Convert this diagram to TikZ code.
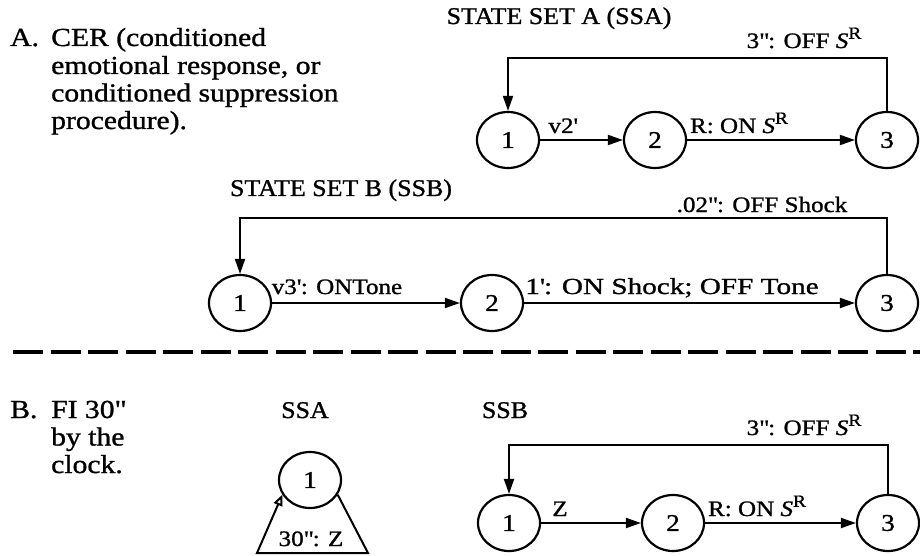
\documentclass[tikz,border=0pt]{standalone}
\usepackage{fontspec}
\setmainfont[FakeStretch=1.14,FakeBold=1.1]{Liberation Serif}
\newfontfamily\ttlfont[FakeStretch=1.08,FakeBold=1.1]{Liberation Serif}
\newfontfamily\widefont[FakeStretch=1.27,FakeBold=1.1]{Liberation Serif}
\usetikzlibrary{shapes.geometric,arrows.meta}
\newcommand{\SRsym}{\textit{S}\raisebox{0.42em}{\fontsize{17}{17}\selectfont R}}
\newcommand{\tq}{\textquotesingle}
\newcommand{\dq}{\textquotedbl}
\begin{document}
\begin{tikzpicture}[x=1pt,y=-1pt,
  state/.style={ellipse,draw,line width=2.2pt,minimum width=62pt,minimum height=56pt,inner sep=0pt,font=\fontsize{24}{24}\selectfont},
  conn/.style={line width=2pt,-{Triangle[length=15pt,width=10pt]}},
  plainline/.style={line width=2pt},
  lbl/.style={font=\fontsize{22}{22}\selectfont,inner sep=0pt,anchor=base},
  widelbl/.style={font=\widefont\fontsize{23}{23}\selectfont,inner sep=0pt,anchor=base},
  ttl/.style={font=\ttlfont\fontsize{24}{24}\selectfont,inner sep=0pt,anchor=base},
  body/.style={font=\fontsize{26}{28}\selectfont,inner sep=0pt,anchor=base west},
  sep/.style={line width=3.3pt,dash pattern=on 30pt off 7.5pt}
]
\useasboundingbox (0,0) rectangle (920,556);

% ---------- Part A text ----------
\node[body] (Alet) at (10,46) {A.};
\node[body] (At1) at (51,46) {CER (conditioned};
\node[body] (At2) at (51,74) {emotional response, or};
\node[body] (At3) at (51,101.5) {conditioned suppression};
\node[body] (At4) at (51,129) {procedure).};

% ---------- State set A (SSA) ----------
\node[ttl] (ttlA) at (559,24) {STATE SET A (SSA)};
\node[state] (a1) at (508,140) {1};
\node[state] (a2) at (655,140) {2};
\node[state] (a3) at (887,140) {3};
\draw[conn] (a1.east) -- (a2.west);
\draw[conn] (a2.east) -- (a3.west);
\draw[conn] (a3.north) -- (a3.north |- 0,58) -| (a1.north);
\node[lbl] (la1) at (563,133) {v2\tq};
\node[lbl] (la2) at (739,133) {R: ON \SRsym};
\node[lbl] (la3) at (804,48) {3\dq: OFF \SRsym};

% ---------- State set B (SSB) ----------
\node[ttl] (ttlB) at (341,196) {STATE SET B (SSB)};
\node[state] (b1) at (240,303) {1};
\node[state] (b2) at (492,303) {2};
\node[state] (b3) at (887,303) {3};
\draw[conn] (b1.east) -- (b2.west);
\draw[conn] (b2.east) -- (b3.west);
\draw[conn] (b3.north) -- (b3.north |- 0,218) -| (b1.north);
\node[lbl] (lb1) at (337,294) {v3\tq: ONTone};
\node[widelbl] (lb2) at (672,294) {1\tq: ON Shock; OFF Tone};
\node[lbl] (lb3) at (762,212) {.02\dq: OFF Shock};

% ---------- separator ----------
\coordinate (sepL) at (13,352);
\coordinate (sepR) at (920,352);
\draw[sep] (sepL) -- (sepR);

% ---------- Part B text ----------
\node[body] (Blet) at (10,418) {B.};
\node[body] (Bt1) at (51,418) {FI 30\dq};
\node[body] (Bt2) at (51,445.5) {by the};
\node[body] (Bt3) at (51,473) {clock.};

% ---------- Part B SSA ----------
\node[ttl] (ssaB) at (305,418) {SSA};
\node[state] (c1) at (310,480) {1};
\coordinate (tr) at (368,553);
\coordinate (tl) at (257,553);
\draw[plainline,-{Triangle[open,length=11pt,width=9pt]}] (c1.-28) -- (tr) -- (tl) -- (c1.208);
\node[lbl] (lc1) at (311,546) {30\dq: Z};

% ---------- Part B SSB ----------
\node[ttl] (ssbB) at (505,418) {SSB};
\node[state] (d1) at (509,523) {1};
\node[state] (d2) at (673,523) {2};
\node[state] (d3) at (888,523) {3};
\draw[conn] (d1.east) -- (d2.west);
\draw[conn] (d2.east) -- (d3.west);
\draw[conn] (d3.north) -- (d3.north |- 0,445) -| (d1.north);
\node[lbl] (ld1) at (560,516) {Z};
\node[lbl] (ld2) at (757,516) {R: ON \SRsym};
\node[lbl] (ld3) at (804,435) {3\dq: OFF \SRsym};
\end{tikzpicture}
\end{document}
